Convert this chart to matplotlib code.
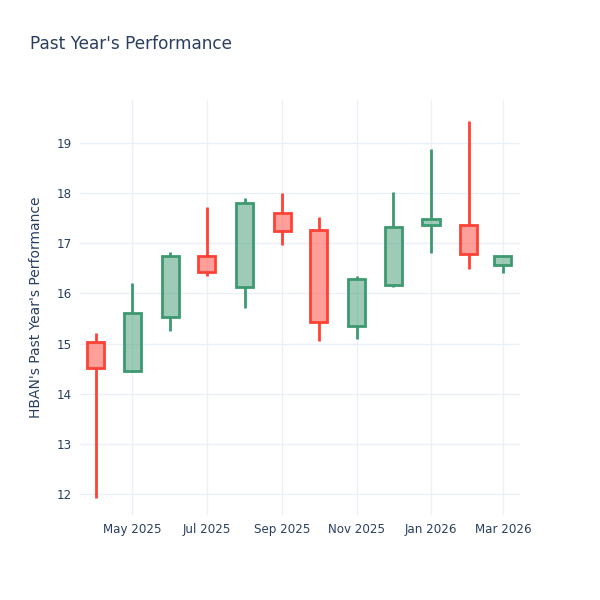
import matplotlib
matplotlib.use("Agg")
import matplotlib.pyplot as plt
import matplotlib.dates as mdates
import numpy as np
import pandas as pd

# monthly OHLC
months = pd.date_range("2025-04-01", "2026-03-01", freq="MS")
opens = [15.03, 14.46, 15.54, 16.74, 16.12, 17.61, 17.27, 15.36, 16.16, 17.36, 17.36, 16.57]
highs = [15.22, 16.21, 16.83, 17.73, 17.90, 18.01, 17.52, 16.34, 18.02, 18.89, 19.44, 16.75]
lows = [11.91, 14.43, 15.25, 16.35, 15.72, 16.96, 15.05, 15.09, 16.13, 16.81, 16.48, 16.40]
closes = [14.52, 15.62, 16.75, 16.42, 17.80, 17.25, 15.43, 16.29, 17.33, 17.48, 16.78, 16.75]

tick_dates = pd.to_datetime(["2025-05-01", "2025-07-01", "2025-09-01",
                             "2025-11-01", "2026-01-01", "2026-03-01"])
tick_labels = ["May 2025", "Jul 2025", "Sep 2025", "Nov 2025", "Jan 2026", "Mar 2026"]

UP = "#3D9970"
DOWN = "#FF4136"
TXT = "#2a3f5f"
GRID = "#EBF0F8"

plt.rcParams["font.family"] = ["DejaVu Sans"]

fig = plt.figure(figsize=(6, 6), dpi=100)
ax = fig.add_axes([80 / 600, 1 - 515 / 600, 440 / 600, 415 / 600])

x = mdates.date2num(months)
width = 14  # days
for xi, o, h, l, c in zip(x, opens, highs, lows, closes):
    col = UP if c >= o else DOWN
    lo, hi = min(o, c), max(o, c)
    ax.vlines(xi, l, lo, color=col, lw=2, zorder=3)
    ax.vlines(xi, hi, h, color=col, lw=2, zorder=3)
    ax.bar(xi, hi - lo, bottom=lo, width=width, facecolor=col, alpha=0.5,
           edgecolor="none", zorder=3)
    ax.bar(xi, hi - lo, bottom=lo, width=width, facecolor="none",
           edgecolor=col, lw=2, zorder=4)

ax.set_xlim(mdates.date2num(pd.Timestamp("2025-03-19")),
            mdates.date2num(pd.Timestamp("2026-03-15")))
ax.set_ylim(11.58, 19.86)
ax.set_yticks(range(12, 20))
ax.set_xticks(mdates.date2num(tick_dates))
ax.set_xticklabels(tick_labels)
ax.grid(True, color=GRID, lw=1, zorder=0)
ax.set_axisbelow(True)
for s in ax.spines.values():
    s.set_visible(False)
ax.tick_params(length=0, colors=TXT, labelsize=8.6, pad=6)

ax.set_ylabel("HBAN's Past Year's Performance", color=TXT, fontsize=10, labelpad=10)
fig.text(30 / 600, 1 - 44 / 600, "Past Year's Performance", color=TXT,
         fontsize=12.2, va="center", ha="left")

fig.savefig("out.png", dpi=100)
